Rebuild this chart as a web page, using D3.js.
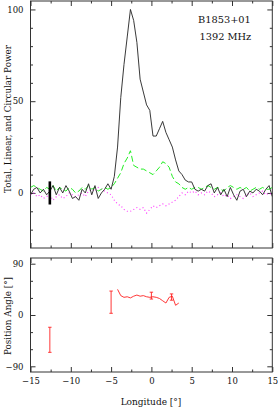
<!DOCTYPE html>
<html>
<head>
<meta charset="utf-8">
<script src="https://cdn.jsdelivr.net/npm/d3@7"></script>
<style>
  body { margin:0; background:#fff; }
  svg { display:block; }
  text { font-family:"DejaVu Serif", serif; fill:#111; }
</style>
</head>
<body>
<svg id="chart" width="278" height="407"></svg>
<script>
// profile bins: 76 bins from -15 to 15 deg, step 0.4
const lonStart = -15, lonStep = 0.4;
const totalI = [-1,2,3,0,2,-1,1,4,-1,3,0,4,1,-3,-2,-4,2,0,5,-1,4,-3,0,2,5,2,
  9,25,52,70,85,100,94,82,62,55,48,45,31,31,35,39,33,29,25,18,12,10,7,6,6,2,1,
  2,1,4,5,0,3,-1,2,-2,3,-1,-4,1,2,-2,1,0,2,1,-1,2,4,-2];
const linearL = [3,4,3,2,1,3,2,4,1,3,2,1,3,2,0,1,3,2,4,2,3,1,2,3,2,3,
  5,8,11,16,19,23,15,14,13,13,12,11,10,12,14,17,16,14,9,6,5,3,2,3,
  2,3,3,2,3,4,3,2,3,2,1,3,4,3,2,3,2,3,1,2,3,2,3,2,2,3];
const circV = [-1,0,-2,-1,-3,-2,-1,-4,-2,-1,-3,-2,0,-1,-2,-1,0,-2,1,2,1,3,2,1,0,-1,
  -4,-6,-7,-9,-10,-10,-9,-8,-9,-8,-11,-9,-7,-8,-7,-6,-7,-6,-5,-4,-2,0,-1,1,
  0,1,-1,0,-1,1,0,-2,-1,0,-2,-1,-3,-2,-1,-2,-3,-1,0,-2,-1,0,1,-1,0,-1];

// position angle
const paLon = [-4.2,-3.8,-3.4,-3.0,-2.6,-2.2,-1.8,-1.4,-1.0,-0.6,-0.2,0.2,0.6,1.0,1.4,1.8,2.2,2.6,3.0,3.4];
const paVal = [45,34,31,32,30,33,35,33,34,32,31,32,31,29,25,21,31,33,17,21];
const paErrLon = [-12.6,-5.0,0.0,2.5];
const paErrVal = [-43.5,22.5,34,31.5];
const paErrSig = [22,19.5,6,5.5];

// off-pulse noise bar in the power panel
const noiseLon = -12.6, noiseSig = 6.3;

const xMajor = [-15,-10,-5,0,5,10,15];
const xMinor = [-12.5,-7.5,-2.5,2.5,7.5,12.5];
const yTopMajor = [0,50,100];
const yTopMinor = [-20,-10,10,20,30,40,60,70,80,90];
const yPaMajor = [-90,0,90];
const yPaMinor = [-60,-30,30,60];

const svg = d3.select("#chart");
const x = d3.scaleLinear().domain([-15,15]).range([30.5,272.3]);
const yTop = d3.scaleLinear().domain([-30,104.6]).range([248,1]);
const yPa = d3.scaleLinear().domain([-100,100]).range([372,258]);

const lon = totalI.map((d,i) => lonStart + i*lonStep);

function frame(yS, yMaj, yMin, withXLabels) {
  const [bot, top] = yS.range();
  const left = x.range()[0], right = x.range()[1];
  const g = svg.append("g");
  g.append("rect").attr("x",left).attr("y",top).attr("width",right-left).attr("height",bot-top)
    .attr("fill","none").attr("stroke","#333").attr("stroke-width",1);
  const put = (axis, tr) => {
    const a = g.append("g").attr("transform",tr).call(axis);
    a.select(".domain").remove();
    a.selectAll(".tick line").attr("stroke","#333");
    a.selectAll("text").style("font-family","DejaVu Serif").style("font-size","8.5px").attr("fill","#111");
    return a;
  };
  put(d3.axisBottom(x).tickValues(xMajor).tickSize(-5).tickFormat(""), `translate(0,${bot})`);
  put(d3.axisBottom(x).tickValues(xMinor).tickSize(-2.5).tickFormat(""), `translate(0,${bot})`);
  put(d3.axisTop(x).tickValues(xMajor).tickSize(-5).tickFormat(""), `translate(0,${top})`);
  put(d3.axisTop(x).tickValues(xMinor).tickSize(-2.5).tickFormat(""), `translate(0,${top})`);
  put(d3.axisLeft(yS).tickValues(yMaj).tickSize(-5).tickPadding(7), `translate(${left},0)`);
  put(d3.axisLeft(yS).tickValues(yMin).tickSize(-2.5).tickFormat(""), `translate(${left},0)`);
  put(d3.axisRight(yS).tickValues(yMaj).tickSize(-5).tickFormat(""), `translate(${right},0)`);
  put(d3.axisRight(yS).tickValues(yMin).tickSize(-2.5).tickFormat(""), `translate(${right},0)`);
  if (withXLabels) {
    put(d3.axisBottom(x).tickValues(xMajor).tickSize(0).tickPadding(6), `translate(0,${bot})`);
  }
}

frame(yTop, yTopMajor, yTopMinor, false);
frame(yPa, yPaMajor, yPaMinor, true);

// power profiles
svg.append("clipPath").attr("id","ct").append("rect")
  .attr("x",30.5).attr("y",1).attr("width",241.8).attr("height",247);
const lineOf = (vals) => d3.line().x((d,i) => x(lon[i])).y(d => yTop(d))(vals);

svg.append("path").attr("d", lineOf(circV)).attr("fill","none")
  .attr("stroke","#ff33ff").attr("stroke-width",1.1).attr("stroke-dasharray","1 2.5")
  .attr("clip-path","url(#ct)");
svg.append("path").attr("d", lineOf(linearL)).attr("fill","none")
  .attr("stroke","#22ee22").attr("stroke-width",1).attr("stroke-dasharray","6 3")
  .attr("clip-path","url(#ct)");
svg.append("path").attr("d", lineOf(totalI)).attr("fill","none")
  .attr("stroke","#222").attr("stroke-width",0.9).attr("clip-path","url(#ct)");

svg.append("line").attr("x1",x(noiseLon)).attr("x2",x(noiseLon))
  .attr("y1",yTop(noiseSig)).attr("y2",yTop(-noiseSig))
  .attr("stroke","#000").attr("stroke-width",2.6);

// position angle
svg.append("path").attr("d", d3.line().x((d,i) => x(paLon[i])).y(d => yPa(d))(paVal))
  .attr("fill","none").attr("stroke","#ff2020").attr("stroke-width",0.9);
const eb = svg.append("g").attr("stroke","#ff2020").attr("stroke-width",0.9);
paErrLon.forEach((l,i) => {
  const cx = x(l), y1 = yPa(paErrVal[i]+paErrSig[i]), y2 = yPa(paErrVal[i]-paErrSig[i]);
  eb.append("line").attr("x1",cx).attr("x2",cx).attr("y1",y1).attr("y2",y2);
  eb.append("line").attr("x1",cx-1.7).attr("x2",cx+1.7).attr("y1",y1).attr("y2",y1);
  eb.append("line").attr("x1",cx-1.7).attr("x2",cx+1.7).attr("y1",y2).attr("y2",y2);
});

// labels
svg.append("text").attr("x",198).attr("y",22.5).style("font-size","9.8px").text("B1853+01");
svg.append("text").attr("x",199.5).attr("y",39.5).style("font-size","9.8px").text("1392 MHz");
svg.append("text").attr("transform","translate(11,119) rotate(-90)").attr("text-anchor","middle")
  .style("font-size","8.8px").text("Total, Linear, and Circular Power");
svg.append("text").attr("transform","translate(11,316) rotate(-90)").attr("text-anchor","middle")
  .style("font-size","8.8px").text("Position Angle [°]");
svg.append("text").attr("x",151).attr("y",404.5).attr("text-anchor","middle")
  .style("font-size","9px").text("Longitude [°]");
</script>
</body>
</html>
